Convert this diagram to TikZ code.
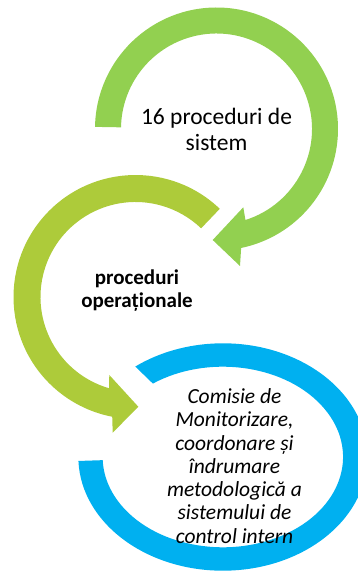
\documentclass[tikz,border=0pt]{standalone}
\usepackage{fontspec}
\setmainfont{Carlito}
\definecolor{cgreen}{HTML}{92D050}
\definecolor{colive}{HTML}{ADCB3A}
\definecolor{cblue}{HTML}{00B0F0}
\begin{document}
\begin{tikzpicture}[x=1pt,y=1pt,
  lbl/.style={align=center,inner sep=0pt,text=black}]
\useasboundingbox (0,0) rectangle (358,571);
\coordinate (G) at (216.5,442);
\coordinate (O) at (135.5,274);
\coordinate (B) at (222.85,114);
% green circular arrow
\fill[cgreen] ([shift={(179:121.5pt)}]G) arc[start angle=179,end angle=-78.3,radius=121.5pt]
  -- (240,305) -- (212.7,331) -- (243.3,363.7)
  -- ([shift={(-72.35:95.5pt)}]G) arc[start angle=-72.35,end angle=179,radius=95.5pt] -- cycle;
% olive circular arrow
\fill[colive] ([shift={(46.3:122pt)}]O) arc[start angle=46.3,end angle=259,radius=122pt]
  -- (112.7,138.3) -- (138.3,164.3) -- (109.3,196)
  -- ([shift={(253.8:95pt)}]O) arc[start angle=253.8,end angle=46.3,radius=95pt] -- cycle;
% blue ring
\fill[cblue] ([shift={(182:144.5pt and 113.7pt)}]B) arc[start angle=182,end angle=487.3,x radius=144.5pt,y radius=113.7pt]
  -- ([shift={(485.6:120.2pt and 90.3pt)}]B) arc[start angle=485.6,end angle=182,x radius=120.2pt,y radius=90.3pt] -- cycle;
% texts
\node[lbl,font=\fontsize{23.5}{26}\selectfont] (t1) at (216.5,441.8) {16 proceduri de\\sistem};
\node[lbl,font=\fontsize{21}{23}\selectfont\bfseries] (t2) at (137,280) {proceduri\\operaționale};
\node[lbl,font=\fontsize{21.5}{23.3}\selectfont\itshape] (t3) at (234.5,105) {Comisie de\\Monitorizare,\\coordonare și\\îndrumare\\metodologică a\\sistemului de\\control intern};
\end{tikzpicture}
\end{document}
